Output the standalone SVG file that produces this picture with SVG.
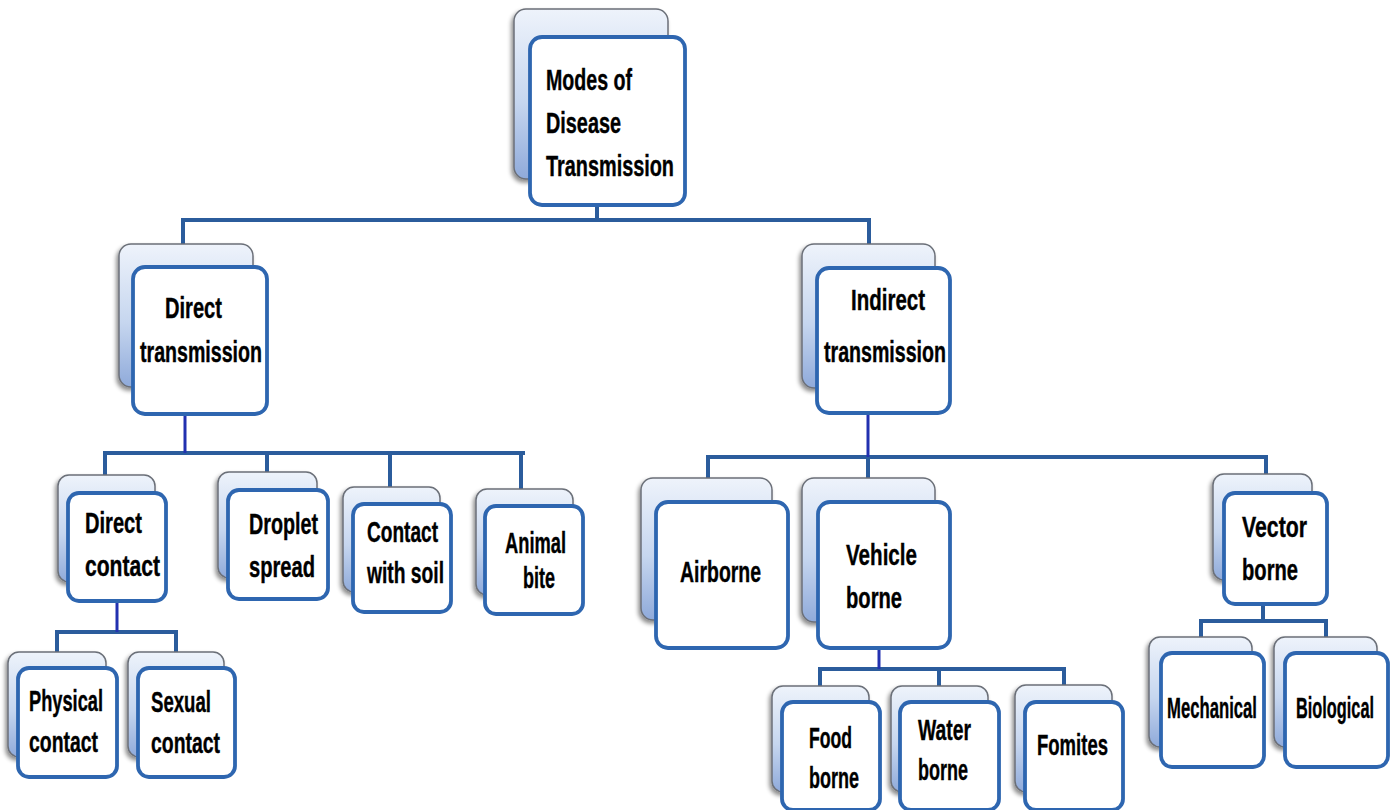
<svg xmlns="http://www.w3.org/2000/svg" width="1392" height="810" viewBox="0 0 1392 810">
<defs>
<linearGradient id="bg" x1="0" y1="0" x2="0" y2="1">
<stop offset="0" stop-color="#EEF3FB"/>
<stop offset="0.55" stop-color="#C6D6EF"/>
<stop offset="1" stop-color="#8FAADA"/>
</linearGradient>
<filter id="sh" x="-20%" y="-20%" width="140%" height="140%">
<feDropShadow dx="-2" dy="3" stdDeviation="2" flood-color="#000" flood-opacity="0.45"/>
</filter>
</defs>
<style>
.back{fill:url(#bg);stroke:#6b6f78;stroke-width:1.5;filter:url(#sh)}
.front{fill:#ffffff;stroke:#2E66B0;stroke-width:3.8}
.t{font-family:"Liberation Sans Narrow","Liberation Sans","Arial Narrow",sans-serif;font-weight:bold;font-size:30px;fill:#000;stroke:#000;stroke-width:0.4}
.c{fill:none;stroke:#2B5C9C;stroke-width:4;stroke-linecap:square}
.d{fill:none;stroke:#2231B0;stroke-width:3}
</style>
<rect width="1392" height="810" fill="#ffffff"/>

<g id="connectors">
<path class="c" d="M597 205V220M183 220H869M183 220V244M869 220V244"/>
<path class="c" d="M105 453H523M105 453V475M267 453V472M390 453V487M521 453V489"/>
<path class="d" d="M185 415V453"/>
<path class="c" d="M708 457H1266M708 457V478M868 457V478M1266 457V474"/>
<path class="d" d="M868 414V457"/>
<path class="c" d="M57 632H176M57 632V652M176 632V652"/>
<path class="d" d="M117 602V632"/>
<path class="c" d="M820 669H1064M820 669V685M939 669V685M1064 669V685"/>
<path class="d" d="M879 649V669"/>
<path class="c" d="M1201 621H1326M1201 621V637M1326 621V637M1263 605V621"/>
</g>

<g id="node-root">
<rect class="back" x="514" y="9" width="154" height="170" rx="12"/>
<rect class="front" x="530" y="37" width="155" height="168" rx="12"/>
<text class="t" x="546" y="90" textLength="86" lengthAdjust="spacingAndGlyphs">Modes of</text>
<text class="t" x="546" y="133" textLength="75" lengthAdjust="spacingAndGlyphs">Disease</text>
<text class="t" x="546" y="176" textLength="128" lengthAdjust="spacingAndGlyphs">Transmission</text>
</g>

<g id="node-direct">
<rect class="back" x="119" y="244" width="134" height="143" rx="12"/>
<rect class="front" x="133" y="267" width="134" height="147" rx="12"/>
<text class="t" x="165" y="318" textLength="57" lengthAdjust="spacingAndGlyphs">Direct</text>
<text class="t" x="140" y="362" textLength="122" lengthAdjust="spacingAndGlyphs">transmission</text>
</g>

<g id="node-indirect">
<rect class="back" x="802" y="244" width="133" height="144" rx="12"/>
<rect class="front" x="817" y="268" width="133" height="145" rx="12"/>
<text class="t" x="851" y="310" textLength="74" lengthAdjust="spacingAndGlyphs">Indirect</text>
<text class="t" x="824" y="362" textLength="122" lengthAdjust="spacingAndGlyphs">transmission</text>
</g>

<g id="node-direct-contact">
<rect class="back" x="58" y="475" width="97" height="107" rx="11"/>
<rect class="front" x="68" y="493" width="98" height="108" rx="11"/>
<text class="t" x="85" y="533" textLength="57" lengthAdjust="spacingAndGlyphs">Direct</text>
<text class="t" x="85" y="576" textLength="75" lengthAdjust="spacingAndGlyphs">contact</text>
</g>

<g id="node-droplet">
<rect class="back" x="218" y="472" width="99" height="106" rx="11"/>
<rect class="front" x="228" y="490" width="100" height="109" rx="11"/>
<text class="t" x="249" y="534" textLength="69" lengthAdjust="spacingAndGlyphs">Droplet</text>
<text class="t" x="249" y="577" textLength="66" lengthAdjust="spacingAndGlyphs">spread</text>
</g>

<g id="node-soil">
<rect class="back" x="343" y="487" width="97" height="105" rx="11"/>
<rect class="front" x="353" y="504" width="98" height="108" rx="11"/>
<text class="t" x="367" y="542" textLength="71" lengthAdjust="spacingAndGlyphs">Contact</text>
<text class="t" x="367" y="583" textLength="77" lengthAdjust="spacingAndGlyphs">with soil</text>
</g>

<g id="node-animal">
<rect class="back" x="476" y="489" width="97" height="106" rx="11"/>
<rect class="front" x="485" y="506" width="98" height="108" rx="11"/>
<text class="t" x="505" y="553" textLength="61" lengthAdjust="spacingAndGlyphs">Animal</text>
<text class="t" x="523" y="588" textLength="32" lengthAdjust="spacingAndGlyphs">bite</text>
</g>

<g id="node-airborne">
<rect class="back" x="641" y="478" width="131" height="142" rx="12"/>
<rect class="front" x="656" y="502" width="132" height="146" rx="12"/>
<text class="t" x="680" y="582" textLength="81" lengthAdjust="spacingAndGlyphs">Airborne</text>
</g>

<g id="node-vehicle">
<rect class="back" x="802" y="478" width="133" height="144" rx="12"/>
<rect class="front" x="818" y="502" width="132" height="146" rx="12"/>
<text class="t" x="846" y="565" textLength="71" lengthAdjust="spacingAndGlyphs">Vehicle</text>
<text class="t" x="846" y="608" textLength="56" lengthAdjust="spacingAndGlyphs">borne</text>
</g>

<g id="node-vector">
<rect class="back" x="1213" y="474" width="99" height="106" rx="11"/>
<rect class="front" x="1224" y="493" width="103" height="111" rx="11"/>
<text class="t" x="1242" y="537" textLength="65" lengthAdjust="spacingAndGlyphs">Vector</text>
<text class="t" x="1242" y="580" textLength="56" lengthAdjust="spacingAndGlyphs">borne</text>
</g>

<g id="node-physical">
<rect class="back" x="8" y="652" width="98" height="105" rx="11"/>
<rect class="front" x="18" y="668" width="99" height="109" rx="11"/>
<text class="t" x="29" y="711" textLength="74" lengthAdjust="spacingAndGlyphs">Physical</text>
<text class="t" x="29" y="752" textLength="69" lengthAdjust="spacingAndGlyphs">contact</text>
</g>

<g id="node-sexual">
<rect class="back" x="128" y="652" width="96" height="105" rx="11"/>
<rect class="front" x="138" y="668" width="97" height="109" rx="11"/>
<text class="t" x="151" y="712" textLength="60" lengthAdjust="spacingAndGlyphs">Sexual</text>
<text class="t" x="151" y="753" textLength="69" lengthAdjust="spacingAndGlyphs">contact</text>
</g>

<g id="node-food">
<rect class="back" x="772" y="686" width="97" height="106" rx="11"/>
<rect class="front" x="782" y="702" width="98" height="108" rx="11"/>
<text class="t" x="809" y="748" textLength="43" lengthAdjust="spacingAndGlyphs">Food</text>
<text class="t" x="809" y="788" textLength="50" lengthAdjust="spacingAndGlyphs">borne</text>
</g>

<g id="node-water">
<rect class="back" x="891" y="686" width="97" height="106" rx="11"/>
<rect class="front" x="900" y="702" width="99" height="108" rx="11"/>
<text class="t" x="918" y="740" textLength="53" lengthAdjust="spacingAndGlyphs">Water</text>
<text class="t" x="918" y="780" textLength="50" lengthAdjust="spacingAndGlyphs">borne</text>
</g>

<g id="node-fomites">
<rect class="back" x="1015" y="685" width="97" height="107" rx="11"/>
<rect class="front" x="1025" y="702" width="98" height="108" rx="11"/>
<text class="t" x="1037" y="755" textLength="71" lengthAdjust="spacingAndGlyphs">Fomites</text>
</g>

<g id="node-mechanical">
<rect class="back" x="1149" y="637" width="103" height="110" rx="11"/>
<rect class="front" x="1161" y="653" width="103" height="114" rx="11"/>
<text class="t" x="1167" y="718" textLength="90" lengthAdjust="spacingAndGlyphs">Mechanical</text>
</g>

<g id="node-biological">
<rect class="back" x="1274" y="637" width="103" height="110" rx="11"/>
<rect class="front" x="1285" y="653" width="103" height="114" rx="11"/>
<text class="t" x="1296" y="718" textLength="78" lengthAdjust="spacingAndGlyphs">Biological</text>
</g>
</svg>
